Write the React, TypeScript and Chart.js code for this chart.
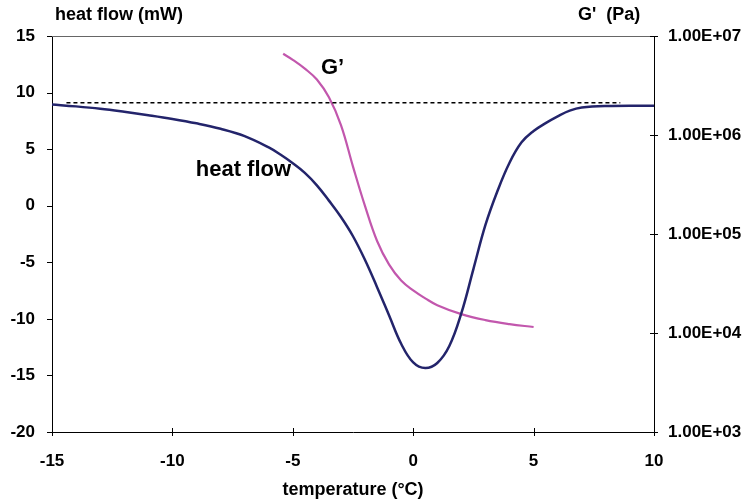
import React, { useEffect, useRef } from "react";
import { Chart, registerables } from "chart.js";

Chart.register(...registerables);

// Temperature sweep (°C) and DSC heat flow (mW)
const heatTemps = [-15, -14, -13, -12, -11, -10, -9, -8, -7, -6, -5.5, -5, -4.5, -4, -3.5, -3, -2.5, -2, -1.5, -1, -0.5, 0, 0.5, 1, 1.5, 2, 2.5, 3, 3.5, 4, 4.5, 5, 5.5, 6, 6.5, 7, 8, 10];
const heatFlow = [8.95, 8.78, 8.57, 8.3, 8.0, 7.67, 7.28, 6.8, 6.15, 5.15, 4.5, 3.75, 2.9, 1.8, 0.45, -1.0, -2.7, -4.8, -7.2, -9.7, -12.2, -13.85, -14.35, -13.9, -12.4, -9.5, -5.6, -1.7, 1.3, 3.8, 5.6, 6.6, 7.3, 7.9, 8.4, 8.68, 8.82, 8.84];

// Storage modulus G' (Pa) on the log axis
const modTemps = [-5.4, -5, -4.5, -4, -3.5, -3, -2.5, -2, -1.5, -1, -0.5, 0, 0.5, 1, 2, 3, 4, 5];
const storageModulus = [6.61e6, 5.75e6, 4.68e6, 3.63e6, 2.4e6, 1.26e6, 4.79e5, 1.91e5, 8.5e4, 4.9e4, 3.39e4, 2.69e4, 2.24e4, 1.91e4, 1.55e4, 1.35e4, 1.23e4, 1.15e4];

// Baseline reference (dashed)
const baselineTemps = [-14.4, 8.6];
const baselineHeat = [9.1, 9.1];

// Axis ticks
const tempTicks = [-15, -10, -5, 0, 5, 10];
const heatTicks = [-20, -15, -10, -5, 0, 5, 10, 15];
const modTicks = [1e3, 1e4, 1e5, 1e6, 1e7];

// Curve annotations (data coordinates)
const heatLabel = { text: "heat flow", x: -7.05, y: 3.15 };
const modLabel = { text: "G\u2019", x: -3.35, y: 12.2 };

const FONT = "'Liberation Sans', Arial, sans-serif";
const NAVY = "#23246b";
const MAGENTA = "#c257ad";

function sci(v: number): string {
  const e = Math.round(Math.log10(v));
  const m = v / Math.pow(10, e);
  const sign = e < 0 ? "-" : "+";
  const abs = Math.abs(e);
  return `${m.toFixed(2)}E${sign}${abs < 10 ? "0" + abs : abs}`;
}

const decorations = {
  id: "decorations",
  afterDraw(chart: any) {
    const { ctx, chartArea, scales } = chart;
    const { left, right, top, bottom } = chartArea;
    ctx.save();
    // top frame line
    ctx.strokeStyle = "#666666";
    ctx.lineWidth = 1;
    ctx.beginPath();
    ctx.moveTo(left, top + 0.5);
    ctx.lineTo(right, top + 0.5);
    ctx.stroke();

    ctx.strokeStyle = "#000000";
    ctx.beginPath();
    heatTicks.forEach((v) => {
      const y = Math.round(scales.y.getPixelForValue(v)) + 0.5;
      ctx.moveTo(left - 5, y);
      ctx.lineTo(left, y);
    });
    modTicks.forEach((v) => {
      const y = Math.round(scales.y2.getPixelForValue(v)) + 0.5;
      ctx.moveTo(right - 4, y);
      ctx.lineTo(right + 4, y);
    });
    tempTicks.forEach((v) => {
      const x = Math.round(scales.x.getPixelForValue(v)) + 0.5;
      ctx.moveTo(x, bottom - 4);
      ctx.lineTo(x, bottom + 4);
    });
    ctx.stroke();

    ctx.fillStyle = "#000000";
    ctx.textBaseline = "middle";
    ctx.font = `bold 18px ${FONT}`;
    ctx.textAlign = "left";
    ctx.fillText("heat flow (mW)", 55, 15);
    ctx.fillText("G'  (Pa)", 578, 15);
    ctx.textAlign = "center";
    ctx.fillText("temperature (\u00B0C)", (left + right) / 2, 490);

    ctx.font = `bold 22px ${FONT}`;
    ctx.fillText(heatLabel.text, scales.x.getPixelForValue(heatLabel.x), scales.y.getPixelForValue(heatLabel.y));
    ctx.fillText(modLabel.text, scales.x.getPixelForValue(modLabel.x), scales.y.getPixelForValue(modLabel.y));
    ctx.restore();
  },
};

export default function App() {
  const canvasRef = useRef<HTMLCanvasElement | null>(null);

  useEffect(() => {
    const canvas = canvasRef.current;
    if (!canvas) return;
    const tickFont = { family: FONT, size: 17, weight: "bold" as const };

    const chart = new Chart(canvas, {
      type: "line",
      data: {
        datasets: [
          {
            label: "baseline",
            data: baselineTemps.map((t, i) => ({ x: t, y: baselineHeat[i] })),
            borderColor: "#000000",
            borderWidth: 1.5,
            borderDash: [4, 3],
            pointRadius: 0,
            yAxisID: "y",
          },
          {
            label: "heat flow",
            data: heatTemps.map((t, i) => ({ x: t, y: heatFlow[i] })),
            borderColor: NAVY,
            borderWidth: 2.5,
            pointRadius: 0,
            tension: 0.4,
            yAxisID: "y",
          },
          {
            label: "G'",
            data: modTemps.map((t, i) => ({ x: t, y: storageModulus[i] })),
            borderColor: MAGENTA,
            borderWidth: 2.2,
            pointRadius: 0,
            tension: 0.4,
            yAxisID: "y2",
          },
        ],
      },
      options: {
        responsive: false,
        animation: false,
        devicePixelRatio: 1,
        layout: { padding: { top: 36, left: 0, right: 0, bottom: 0 } },
        plugins: { legend: { display: false }, tooltip: { enabled: false } },
        scales: {
          x: {
            type: "linear",
            min: -15,
            max: 10,
            afterBuildTicks: (s: any) => {
              s.ticks = tempTicks.map((v) => ({ value: v }));
            },
            afterFit: (s: any) => {
              s.height = 71;
            },
            grid: { display: false, drawTicks: false },
            border: { display: true, color: "#000000", width: 1 },
            ticks: { color: "#000000", font: tickFont, padding: 19, maxRotation: 0 },
          },
          y: {
            type: "linear",
            position: "left",
            min: -20,
            max: 15,
            afterBuildTicks: (s: any) => {
              s.ticks = heatTicks.map((v) => ({ value: v }));
            },
            afterFit: (s: any) => {
              s.width = 52;
            },
            grid: { display: false, drawTicks: false },
            border: { display: true, color: "#000000", width: 1 },
            ticks: { color: "#000000", font: tickFont, padding: 17 },
          },
          y2: {
            type: "logarithmic",
            position: "right",
            min: 1e3,
            max: 1e7,
            afterBuildTicks: (s: any) => {
              s.ticks = modTicks.map((v) => ({ value: v }));
            },
            afterFit: (s: any) => {
              s.width = 95;
            },
            grid: { display: false, drawTicks: false },
            border: { display: true, color: "#000000", width: 1 },
            ticks: {
              color: "#000000",
              font: tickFont,
              padding: 14,
              callback: (v: any) => sci(Number(v)),
            },
          },
        },
      },
      plugins: [decorations],
    });

    return () => chart.destroy();
  }, []);

  return (
    <div style={{ position: "fixed", left: 0, top: 0, width: 749, height: 503, background: "#ffffff" }}>
      <canvas ref={canvasRef} width={749} height={503} style={{ display: "block" }} />
    </div>
  );
}
